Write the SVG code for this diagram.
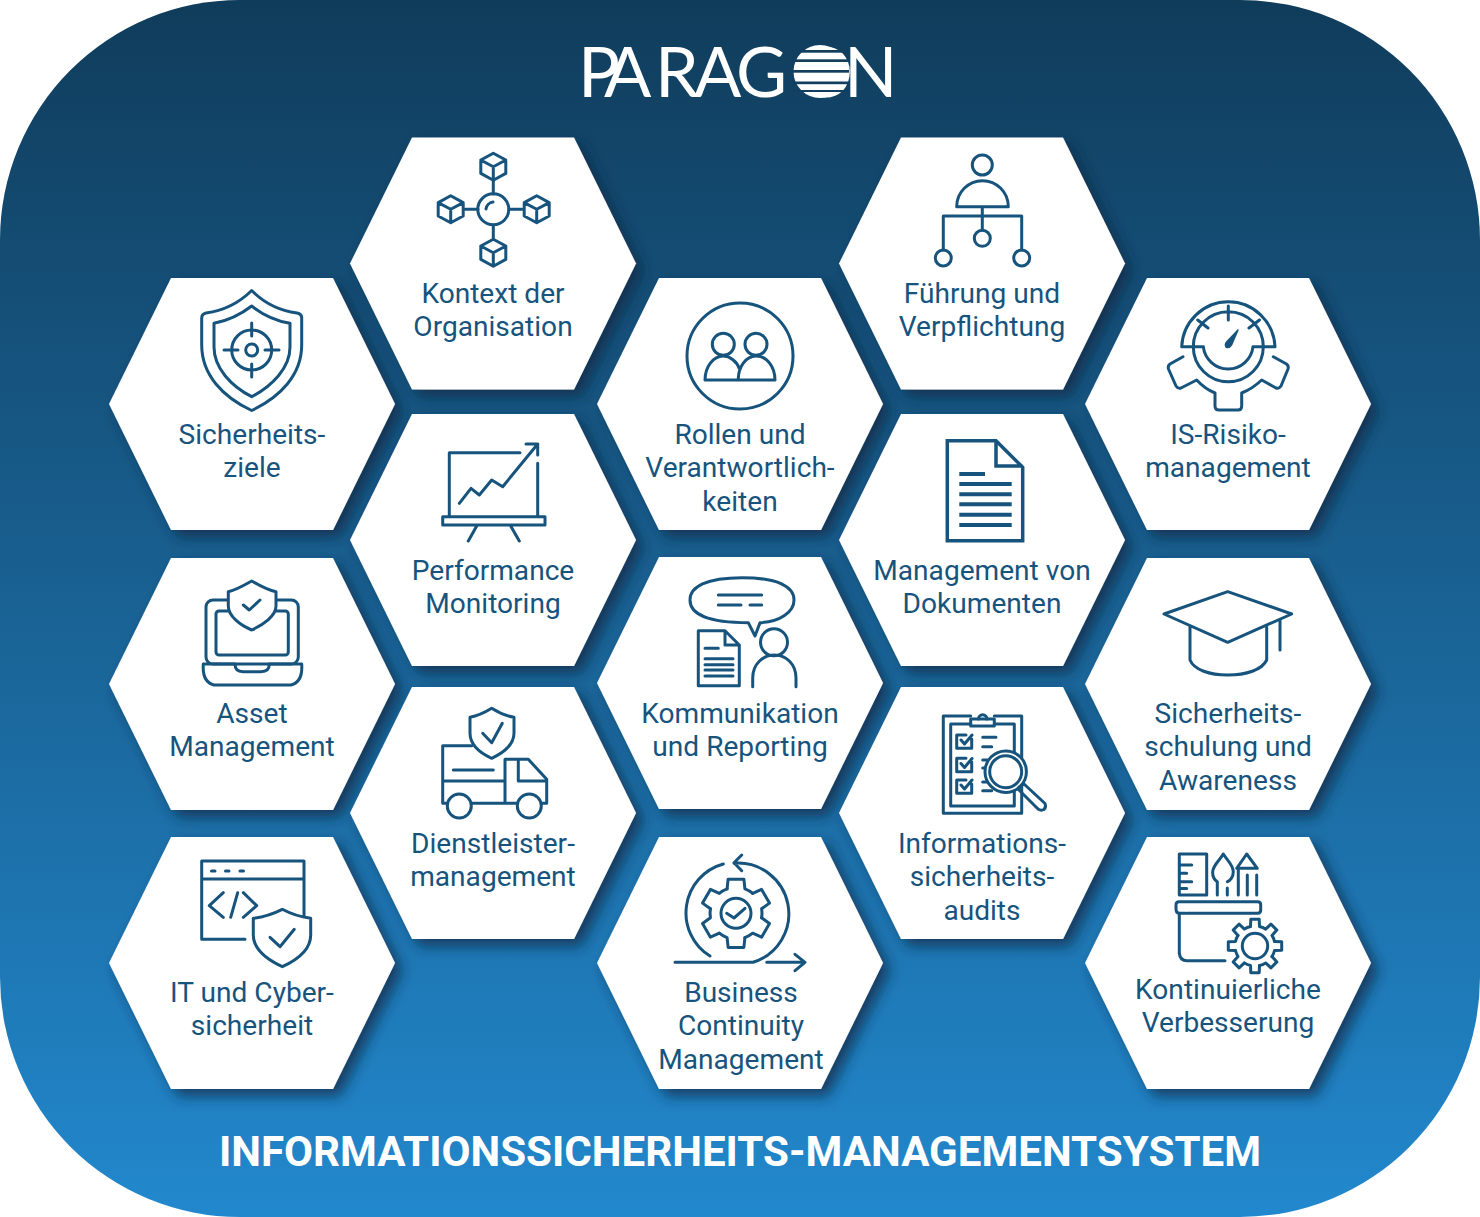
<svg xmlns="http://www.w3.org/2000/svg" width="1480" height="1217" viewBox="0 0 1480 1217">
<style>
.hex{fill:#fff;filter:url(#sh)}
.lbl{font-family:Roboto,"Liberation Sans",sans-serif;font-size:28.1px;fill:#17547d;text-anchor:middle}
.ic{fill:none;stroke:#17547d;stroke-width:3;stroke-linecap:round;stroke-linejoin:round}
.icw{fill:#fff;stroke:#17547d;stroke-width:3;stroke-linecap:round;stroke-linejoin:round}
.logo{font-family:Lato,"Liberation Sans",sans-serif;font-size:70px;fill:#fff}
</style>
<defs>
<linearGradient id="bg" x1="0" y1="0" x2="0" y2="1"><stop offset="0" stop-color="#103c5b"/><stop offset="1" stop-color="#2288cd"/></linearGradient>
<filter id="sh" x="-20%" y="-20%" width="150%" height="150%"><feDropShadow dx="7" dy="7" stdDeviation="7" flood-color="#0a2a44" flood-opacity=".75"/></filter>
<polygon id="hx" points="-143,0 -81,-126 81,-126 143,0 81,126 -81,126"/>
<g id="cube"><path class="ic" d="M0 -13.5L12.5 -6.7V6.7L0 13.5L-12.5 6.7V-6.7ZM-12.5 -6.7L0 0L12.5 -6.7M0 0V13.5"/></g>
<path id="t6" class="ic" d="M-8.9 -24.4L-7.9 -34.1L7.9 -34.1L8.9 -24.4A26 26 0 0 1 16.7 -19.9"/>
<g id="gear6"><use href="#t6"/><use href="#t6" transform="rotate(60)"/><use href="#t6" transform="rotate(120)"/><use href="#t6" transform="rotate(180)"/><use href="#t6" transform="rotate(240)"/><use href="#t6" transform="rotate(300)"/></g>
<path id="t8" class="ic" d="M-4.5 -19.5L-4.2 -26.7L4.2 -26.7L4.5 -19.5A20 20 0 0 1 10.6 -17"/>
<g id="gear8"><use href="#t8"/><use href="#t8" transform="rotate(45)"/><use href="#t8" transform="rotate(90)"/><use href="#t8" transform="rotate(135)"/><use href="#t8" transform="rotate(180)"/><use href="#t8" transform="rotate(225)"/><use href="#t8" transform="rotate(270)"/><use href="#t8" transform="rotate(315)"/></g>
</defs>

<rect id="background" width="1480" height="1217" rx="240" ry="240" fill="url(#bg)"/>

<g id="logo">
<text class="logo" x="578 604 655 694 736 797 844" y="97">PARAGON</text>
<circle cx="820" cy="71.500" r="26.500" fill="#fff"/>
<g fill="#123f5f"><rect x="792" y="50" width="57" height="2.700"/><rect x="792" y="59.300" width="57" height="2.700"/><rect x="792" y="70" width="57" height="2.700"/><rect x="792" y="81.500" width="57" height="2.700"/><rect x="792" y="90" width="57" height="2"/></g>
</g>

<g id="connectors"/>

<g id="n-kontext"><use href="#hx" class="hex" x="493" y="263.500"/>
<circle class="ic" cx="493.300" cy="209.300" r="15.500"/><path class="ic" d="M486 209A8 8 0 0 1 493 202M493.300 181V194M493.300 225V238M465 209.300H478M509 209.300H522"/>
<use href="#cube" x="493.300" y="166.700"/><use href="#cube" x="450.700" y="209.300"/><use href="#cube" x="536.700" y="209.300"/><use href="#cube" x="493.300" y="252.700"/>
<text class="lbl" x="493" y="303">Kontext der</text><text class="lbl" x="493" y="336">Organisation</text></g>

<g id="n-fuehrung"><use href="#hx" class="hex" x="982" y="263.500"/>
<g class="ic"><circle cx="982.300" cy="165" r="10"/><path d="M956.700 206.700A25.800 26 0 0 1 1008.300 206.700ZM982.300 206.700V230M943.300 250V216H1021.700V250"/><circle cx="982.300" cy="238.300" r="8"/><circle cx="943.300" cy="258" r="8"/><circle cx="1021.700" cy="258" r="8"/></g>
<text class="lbl" x="982" y="303">Führung und</text><text class="lbl" x="982" y="336">Verpflichtung</text></g>

<g id="n-sicherheitsziele"><use href="#hx" class="hex" x="252" y="404"/>
<g class="ic"><path d="M251.700 290.500C265 304 282 311 297 313Q301.700 314 301.700 318L301.700 345C301.700 375 280 397 251.700 410.500C223 397 201.700 375 201.700 345L201.700 318Q201.700 314 206 313C221 311 238 304 251.700 290.500Z"/><path d="M251.700 306C263 315 277 321 290 323.300V347C290 368 272 386 251.700 396.700C231 386 214 368 214 347V323.300C226 321 240 315 251.700 306Z"/><circle cx="251.700" cy="350" r="20"/><circle cx="251.700" cy="350" r="6"/><path d="M224 350H238M265 350H279M251.700 323V336M251.700 364V377"/></g>
<text class="lbl" x="252" y="444">Sicherheits-</text><text class="lbl" x="252" y="477">ziele</text></g>

<g id="n-rollen"><use href="#hx" class="hex" x="740" y="404"/>
<g class="ic"><circle cx="740" cy="356" r="53"/><circle cx="723.300" cy="344.300" r="11"/><circle cx="756" cy="344.300" r="11"/><path d="M705 380A18.500 24 0 0 1 723.300 356C730 356 737 362 739 368M738.300 380C738 367 746 356 756 356C767 356 775 367 775 380M705 380H775"/></g>
<text class="lbl" x="740" y="444">Rollen und</text><text class="lbl" x="740" y="477">Verantwortlich-</text><text class="lbl" x="740" y="511">keiten</text></g>

<g id="n-isrisiko"><use href="#hx" class="hex" x="1228" y="404"/>
<g class="ic"><path d="M1181.700 346.700A46.700 47 0 0 1 1275 346.700M1181.700 346.700H1203.300M1253 346.700H1275M1193.300 346.700A35 35 0 1 1 1263.300 346.700A35 35 0 0 1 1193.300 346.700M1203.300 346.700A25 25 0 0 0 1253 346.700M1228.300 306V320M1197.700 320L1208 328M1259.500 320L1249 328"/><path d="M1238 330L1231.500 345Q1229 348.500 1226 347Q1224.500 344 1227 341.500Z" fill="#17547d" stroke-width="1.500"/><path d="M1183 356.700L1170 364Q1167.500 366 1168.500 369L1176 386Q1178 389 1181 388L1196.700 380Q1205 389 1215 393V406Q1215 410 1219 410H1238Q1241.700 410 1241.700 406V393Q1252 389 1261.700 380L1276 388Q1279 389 1281 386L1288 369Q1289 366 1286.500 364L1273.300 356.700"/></g>
<text class="lbl" x="1228" y="444">IS-Risiko-</text><text class="lbl" x="1228" y="477">management</text></g>

<g id="n-performance"><use href="#hx" class="hex" x="493" y="540"/>
<g class="ic"><path d="M520 452.700H449.300V516.700M537.700 463.300V516.700M442.700 516.700H545V525H442.700ZM476.700 526L468.300 541M510.700 526L519.300 541M459.300 503.300L471 488.300L479.300 495L491.700 480L502.700 486.700L537.700 444M526 444H537.700V455"/></g>
<text class="lbl" x="493" y="580">Performance</text><text class="lbl" x="493" y="613">Monitoring</text></g>

<g id="n-dokumente"><use href="#hx" class="hex" x="982" y="540"/>
<path class="ic" style="stroke-width:3.500;stroke-linecap:butt;stroke-linejoin:miter" d="M947.300 440.700H996L1022.700 467.300V540.700H947.300ZM996 440.700V466H1022.700"/>
<path style="stroke:#17547d;stroke-width:4" d="M959.300 474H985M959.300 484H1011.700M959.300 494.300H1011.700M959.300 504.300H1011.700M959.300 514.700H1011.700M959.300 525H1011.700"/>
<text class="lbl" x="982" y="580">Management von</text><text class="lbl" x="982" y="613">Dokumenten</text></g>

<g id="n-asset"><use href="#hx" class="hex" x="252" y="684"/>
<g class="ic"><rect x="206" y="600" width="92.300" height="64" rx="7"/><rect x="216" y="611" width="72.300" height="44" rx="3"/><path d="M203.300 664H235Q235 671.700 243 671.700H261Q269.300 671.700 269.300 664H301.700Q303 682 291 685H214Q202 682 203.300 664Z"/><path class="icw" d="M251.700 581C243 586 236 590 228.300 591.700V606C228.300 616 240 625 251.700 630C263 625 276 616 276 606V591.700C267 590 260 586 251.700 581Z"/><path d="M243.300 605L249.300 610L260 600"/></g>
<text class="lbl" x="252" y="723">Asset</text><text class="lbl" x="252" y="756">Management</text></g>

<g id="n-kommunikation"><use href="#hx" class="hex" x="740" y="683"/>
<g class="ic"><path d="M748.300 622.700L755 636L760 622.700C780 622 794 612 794 600C794 587 778 577.700 742 577.700C706 577.700 690 587 690 600C690 614 708 622.700 748.300 622.700ZM718.300 595H761.700M718.300 605H741M750 605H761.700"/><path d="M698.300 630.700H725L739.300 645V685.700H698.300ZM725 630.700V645H739.300M705 648.300H718.300M705 658.700H733M705 664.700H733M705 670H733M705 676H733"/><circle cx="774" cy="642.300" r="13.500"/><path d="M752.700 686.700V678C752.700 664 763 655 774.500 655C786 655 796 664 796 678V686.700"/></g>
<text class="lbl" x="740" y="723">Kommunikation</text><text class="lbl" x="740" y="756">und Reporting</text></g>

<g id="n-schulung"><use href="#hx" class="hex" x="1228" y="684"/>
<g class="ic"><path d="M1227.700 591.700L1291.700 614L1227.700 642.300L1164 614ZM1190 626.700V660C1194 670 1210 675 1227.700 675C1246 675 1262 670 1266.700 660V626.700M1280 619.300V650"/></g>
<text class="lbl" x="1228" y="723">Sicherheits-</text><text class="lbl" x="1228" y="756">schulung und</text><text class="lbl" x="1228" y="790">Awareness</text></g>

<g id="n-dienstleister"><use href="#hx" class="hex" x="493" y="813"/>
<g class="ic"><path d="M471.700 745.700H442.700V803.300H447M471.700 803.300H516.700M541.500 803.300H546.700V779.300L528.300 759.300H505V803.300M518.300 759.300V781H546.700M442.700 781H504M453.300 770H493.300"/><circle class="icw" cx="459.300" cy="806" r="12"/><circle class="icw" cx="529.300" cy="806" r="12"/><path class="icw" d="M491.700 708.300C484 713 477 716 470 717.300V733C470 745 480 753 491.700 758.300C503 753 514 745 514 733V717.300C506 716 499 713 491.700 708.300Z"/><path d="M482.700 733.300L491.700 742.700L502.300 723.300"/></g>
<text class="lbl" x="493" y="853">Dienstleister-</text><text class="lbl" x="493" y="886">management</text></g>

<g id="n-audits"><use href="#hx" class="hex" x="982" y="813"/>
<g class="ic"><path d="M970.700 716H943.300V813.300H1021.700V716H994.300M970.700 724H950.700V806H1014.300V724H994.300"/><rect x="970.700" y="719" width="23.600" height="7"/><path d="M978.500 719A4.200 4.200 0 1 1 986.900 719"/><path d="M971.700 739V748.300H956.700V735H966M961 740L964.500 744L972 735M971.700 762V771.700H956.700V758.300H966M961 763.500L964.500 767.500L972 758.500M971.700 784V793.300H956.700V780H966M961 785L964.500 789L972 780M982.700 737.300H996M982.700 746.700H991.700M982.700 760H988M982.700 768H985.500M982.700 782H988M982.700 790.700H991.700"/><circle class="icw" cx="1005.700" cy="771.700" r="20.700"/><circle cx="1005.700" cy="771.700" r="16"/><path d="M1019 787L1024 784L1045 803.500Q1046.500 807 1044 809.500Q1041 811 1038 809L1019 790Z"/></g>
<text class="lbl" x="982" y="853">Informations-</text><text class="lbl" x="982" y="886">sicherheits-</text><text class="lbl" x="982" y="920">audits</text></g>

<g id="n-it"><use href="#hx" class="hex" x="252" y="963"/>
<g class="ic"><path d="M245 939.300H201.700V861H304V916.700M201.700 879H304M211.500 871H215M225.500 871H229M240 871H243.500M223.300 892.700L209.300 905.700L223.300 917.300M237.700 892.700L230.700 917.300M243.300 892.700L256.700 905.700L243.300 917.300"/><path class="icw" d="M282.300 909.300C273 914 263 917 253.300 918.300V935C253.300 950 268 960 282.300 966.700C297 960 310.700 950 310.700 935V918.300C301 917 291 914 282.300 909.300Z"/><path d="M270 937.300L280 946.700L294.300 929.300"/></g>
<text class="lbl" x="252" y="1002">IT und Cyber-</text><text class="lbl" x="252" y="1035">sicherheit</text></g>

<g id="n-business"><use href="#hx" class="hex" x="740" y="963"/>
<g class="ic"><path d="M723.300 864A50.700 50.700 0 0 0 710 956M734 863.300A50.700 50.700 0 0 1 753 962.300H675M741.700 855L734 862.700L741.700 870.700M766.700 962.300H805M795 954.300L805 962.300L795 970.700"/><circle cx="736" cy="913.300" r="15"/><path d="M726.700 913.300L734 918L745 908.300"/></g>
<use href="#gear6" x="736" y="913.300"/>
<text class="lbl" x="741" y="1002">Business</text><text class="lbl" x="741" y="1035">Continuity</text><text class="lbl" x="741" y="1069">Management</text></g>

<g id="n-verbesserung"><use href="#hx" class="hex" x="1228" y="963"/>
<g class="ic"><path d="M1206.700 854H1179.300V895H1206.700ZM1180 865H1191.700M1180 873.300H1186.700M1180 881.700H1191.700M1180 888.500H1186.700"/><path d="M1217.300 881.700C1212 878 1212.700 874 1212.700 871.700C1213 865 1220 860 1223.300 854C1227 860 1233.300 865 1233.300 871.700C1233.300 877 1230 881 1227.300 881.700M1217.300 881.700V895M1227.300 888V895"/><path d="M1246.700 854L1236.700 868.300H1257.300ZM1238.300 868.300V895M1247.300 875V895M1256.700 875V895"/><path d="M1186 913.300H1179Q1176 913 1176 909V904.700Q1176 901.700 1179 901.700H1257.700Q1260.700 901.700 1260.700 904.700V910Q1260.700 913.300 1257.700 913.300H1187M1179.300 913.300V953Q1180 960.700 1187 960.700H1225"/><circle cx="1255" cy="946" r="12.700"/></g>
<use href="#gear8" x="1255" y="946"/>
<text class="lbl" x="1228" y="999">Kontinuierliche</text><text class="lbl" x="1228" y="1032">Verbesserung</text></g>

<text id="title" x="740" y="1166" text-anchor="middle" font-family="Roboto,'Liberation Sans',sans-serif" font-size="42.100" font-weight="700" fill="#fff">INFORMATIONSSICHERHEITS-MANAGEMENTSYSTEM</text>
</svg>
